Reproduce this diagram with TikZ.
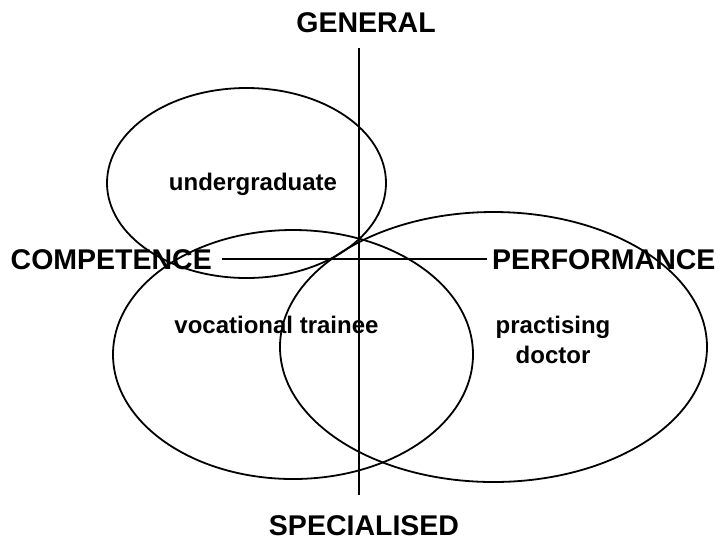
\documentclass[tikz,border=0pt]{standalone}
\usepackage{fontspec}
\setmainfont{Liberation Sans}
\begin{document}
\begin{tikzpicture}[x=1pt,y=-1pt,
  axislabel/.style={font=\bfseries\fontsize{28.5}{32}\selectfont, inner sep=0pt},
  zonelabel/.style={font=\bfseries\fontsize{24}{30}\selectfont, inner sep=0pt, align=center},
  ring/.style={draw=black, line width=1.8pt},
  axis/.style={draw=black, line width=1.8pt}]
\useasboundingbox (0,0) rectangle (722,542);
% ellipses
\draw[ring] (246.5,183) ellipse [x radius=139.5, y radius=95];
\draw[ring] (293,354.5) ellipse [x radius=180, y radius=124.5];
\draw[ring] (493.5,347) ellipse [x radius=213.5, y radius=135];
% axes
\coordinate (top) at (359,48);
\coordinate (bot) at (359,495);
\coordinate (lft) at (222,259);
\coordinate (rgt) at (487,259);
\draw[axis] (top) -- (bot);
\draw[axis] (lft) -- (rgt);
% labels
\node[axislabel] (gen) at (366,23) {GENERAL};
\node[axislabel] (spe) at (364,526) {SPECIALISED};
\node[axislabel, anchor=east] (com) at (212,260) {COMPETENCE};
\node[axislabel, anchor=west] (per) at (492,260) {PERFORMANCE};
\node[zonelabel] (ug) at (253,184) {undergraduate};
\node[zonelabel] (vt) at (276.5,325) {vocational trainee};
\node[zonelabel] (pd) at (553,340) {practising\\doctor};
\end{tikzpicture}
\end{document}
